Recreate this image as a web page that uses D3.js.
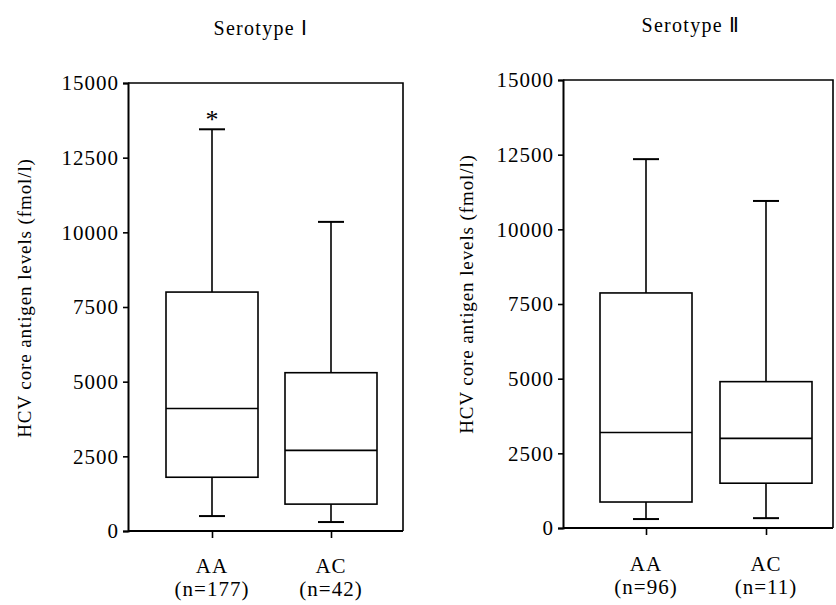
<!DOCTYPE html>
<html><head><meta charset="utf-8">
<script src="https://cdn.jsdelivr.net/npm/d3@7"></script>
<style>body{margin:0;background:#fff}svg{display:block}text{font-family:"Liberation Serif","Times New Roman",serif;fill:#000}</style>
</head><body>
<script>
// ---- data ----
const categories = ["AA", "AC"];
const yTicks = [0, 2500, 5000, 7500, 10000, 12500, 15000];
const yLabel = "HCV core antigen levels (fmol/l)";

const titleI = "Serotype Ⅰ";
const sampleSizesI = ["(n=177)", "(n=42)"];
const whiskerLowI = [500, 300];
const q1I = [1800, 900];
const medianI = [4100, 2700];
const q3I = [8000, 5300];
const whiskerHighI = [13450, 10350];
const significantI = [true, false];

const titleII = "Serotype Ⅱ";
const sampleSizesII = ["(n=96)", "(n=11)"];
const whiskerLowII = [300, 330];
const q1II = [870, 1500];
const medianII = [3200, 3000];
const q3II = [7870, 4900];
const whiskerHighII = [12350, 10950];
const significantII = [false, false];

// ---- drawing ----
const W = 836, H = 605;
const FONT = '"Liberation Serif","Times New Roman",serif';
const svg = d3.select("body").append("svg").attr("width", W).attr("height", H);

function panel(o) {
  const g = svg.append("g");
  const y = d3.scaleLinear().domain([0, 15000]).range([o.bottom, o.top]);
  const x = d3.scalePoint().domain(categories).range([o.left + o.padL, o.right - o.padR]);
  const boxW = 92, capW = 26;

  // frame (top and right)
  g.append("path")
    .attr("d", `M${o.left},${o.top}H${o.right}V${o.bottom}`)
    .attr("fill", "none").attr("stroke", "#000").attr("stroke-width", 1.6);

  // y axis
  const ya = g.append("g").attr("transform", `translate(${o.left},0)`)
    .call(d3.axisLeft(y).tickValues(yTicks).tickFormat(d3.format("d")).tickSize(5).tickPadding(4));
  ya.select(".domain").attr("stroke-width", 2);
  ya.selectAll(".tick line").attr("stroke-width", 1.6);
  ya.selectAll("text").style("font-family", FONT).style("font-size", "21px")
    .style("letter-spacing", "1px").attr("fill", "#000");

  // x axis
  const xa = g.append("g").attr("transform", `translate(0,${o.bottom})`)
    .call(d3.axisBottom(x).tickSize(7).tickFormat(""));
  xa.select(".domain").attr("d", `M${o.left},0H${o.right}`).attr("stroke-width", 2);
  xa.selectAll(".tick line").attr("stroke-width", 1.6);

  // category labels
  categories.forEach((c, i) => {
    g.append("text").attr("x", x(c)).attr("y", o.bottom + o.catDy).attr("text-anchor", "middle")
      .style("font-size", "21px").style("letter-spacing", "1px").text(c);
    g.append("text").attr("x", x(c)).attr("y", o.bottom + o.catDy + 23).attr("text-anchor", "middle")
      .style("font-size", "21px").style("letter-spacing", "1px").text(o.n[i]);
  });

  // boxes
  categories.forEach((c, i) => {
    const cx = x(c);
    const bg = g.append("g").attr("stroke", "#000").attr("fill", "none").attr("stroke-width", 1.6);
    bg.append("line").attr("x1", cx).attr("x2", cx).attr("y1", y(o.lo[i])).attr("y2", y(o.q1[i]));
    bg.append("line").attr("x1", cx).attr("x2", cx).attr("y1", y(o.q3[i])).attr("y2", y(o.hi[i]));
    bg.append("line").attr("x1", cx - capW / 2).attr("x2", cx + capW / 2).attr("y1", y(o.lo[i])).attr("y2", y(o.lo[i])).attr("stroke-width", 2);
    bg.append("line").attr("x1", cx - capW / 2).attr("x2", cx + capW / 2).attr("y1", y(o.hi[i])).attr("y2", y(o.hi[i])).attr("stroke-width", 2);
    bg.append("rect").attr("x", cx - boxW / 2).attr("width", boxW)
      .attr("y", y(o.q3[i])).attr("height", y(o.q1[i]) - y(o.q3[i])).attr("fill", "#fff");
    bg.append("line").attr("x1", cx - boxW / 2).attr("x2", cx + boxW / 2).attr("y1", y(o.med[i])).attr("y2", y(o.med[i]));
    if (o.sig[i]) {
      g.append("text").attr("x", cx).attr("y", y(o.hi[i]) - 1).attr("text-anchor", "middle")
        .style("font-size", "26px").text("*");
    }
  });

  // y label
  g.append("text").attr("transform", `translate(${o.labelX},${o.labelY}) rotate(-90)`)
    .attr("text-anchor", "middle").style("font-size", "19px").style("letter-spacing", "0.9px").text(yLabel);

  // title
  g.append("text").attr("x", o.titleX).attr("y", o.titleY).attr("text-anchor", "middle")
    .style("font-size", "20px").style("letter-spacing", "1.3px").text(o.title);
}

panel({left: 128, right: 403, top: 83, bottom: 531, padL: 84, padR: 72, catDy: 42,
  labelX: 31, labelY: 298, titleX: 261, titleY: 35, title: titleI, n: sampleSizesI,
  lo: whiskerLowI, q1: q1I, med: medianI, q3: q3I, hi: whiskerHighI, sig: significantI});
panel({left: 563, right: 833, top: 80, bottom: 528, padL: 83, padR: 67, catDy: 43,
  labelX: 473, labelY: 294, titleX: 691, titleY: 32, title: titleII, n: sampleSizesII,
  lo: whiskerLowII, q1: q1II, med: medianII, q3: q3II, hi: whiskerHighII, sig: significantII});
</script>
</body></html>
